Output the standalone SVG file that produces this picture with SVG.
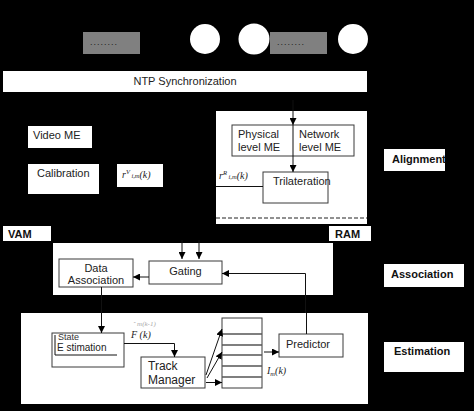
<svg xmlns="http://www.w3.org/2000/svg" width="474" height="411" viewBox="0 0 474 411">
<defs>
<style>
.t{font-family:"Liberation Sans",Arial,sans-serif;font-size:11px;fill:#222}
.b{font-family:"Liberation Sans",Arial,sans-serif;font-size:11px;font-weight:bold;fill:#111}
.m{font-family:"Liberation Serif","Times New Roman",serif;font-style:italic;font-size:10px;fill:#222}
.d{font-family:"Liberation Sans",Arial,sans-serif;font-size:9px;letter-spacing:1px;fill:#222}
.bg{fill:#fff;stroke:none}
.bx{fill:#fff;stroke:#3a3a3a;stroke-width:1}
.ln{fill:none;stroke:#111;stroke-width:1}
.gr{fill:#808080;stroke:none}
</style>
<marker id="ah" viewBox="0 0 8 8" refX="8" refY="4" markerWidth="7" markerHeight="7" orient="auto" markerUnits="userSpaceOnUse">
<path d="M0,0 L8,4 L0,8 Z" fill="#000"/>
</marker>
</defs>
<rect x="0" y="0" width="474" height="411" fill="#000"/>

<g id="sensors">
<rect class="gr" x="83" y="32" width="57" height="22"/>
<text class="d" x="90" y="45">........</text>
<circle cx="205" cy="39" r="15" fill="#fff"/>
<circle cx="254" cy="39" r="15.5" fill="#fff"/>
<rect class="gr" x="270" y="32" width="57" height="22"/>
<text class="d" x="277" y="45">........</text>
<circle cx="353" cy="39" r="15" fill="#fff"/>
</g>

<g id="ntp">
<rect class="bg" x="3" y="71" width="364" height="21"/>
<text class="t" x="185" y="85" text-anchor="middle">NTP Synchronization</text>
</g>

<g id="videoME">
<rect class="bg" x="28" y="126" width="64" height="22"/>
<text class="t" x="33" y="139">Video ME</text>
</g>
<g id="calibration">
<rect class="bg" x="28" y="164" width="71" height="30"/>
<text class="t" x="37" y="177">Calibration</text>
</g>
<g id="rV">
<rect class="bg" x="117" y="164" width="46" height="23"/>
<text class="m" x="122" y="178">r<tspan dy="-4" font-size="6.5">V</tspan><tspan dy="4" font-size="6.5"> i,m</tspan><tspan font-size="10">(k)</tspan></text>
</g>

<g id="alignmentArea">
<rect class="bg" x="216" y="111" width="151" height="113"/>
<line x1="216" y1="218" x2="367" y2="218" stroke="#222" stroke-width="1" stroke-dasharray="4,2"/>
</g>
<g id="physicalNetwork">
<rect class="bx" x="232" y="125" width="122" height="31"/>
<text class="t" x="238" y="138">Physical</text>
<text class="t" x="238" y="151">level ME</text>
<text class="t" x="299" y="138">Network</text>
<text class="t" x="299" y="151">level ME</text>
</g>
<g id="trilateration">
<rect class="bx" x="263" y="172" width="65" height="31"/>
<text class="t" x="273" y="185">Trilateration</text>
</g>
<g id="rR">
<text class="m" x="219" y="179">r<tspan dy="-4" font-size="6.5">R</tspan><tspan dy="4" font-size="6.5"> i,m</tspan><tspan font-size="10">(k)</tspan></text>
</g>

<g id="alignmentLabel">
<rect class="bg" x="384" y="149" width="61" height="22"/>
<text class="b" x="392" y="163">Alignment</text>
</g>
<g id="vam">
<rect class="bg" x="3" y="226" width="48" height="15"/>
<text class="b" x="8" y="238">VAM</text>
</g>
<g id="ram">
<rect class="bg" x="329" y="226" width="42" height="15"/>
<text class="b" x="335" y="238">RAM</text>
</g>

<g id="associationArea">
<rect class="bg" x="53" y="243" width="280" height="52"/>
</g>
<g id="gating">
<rect class="bx" x="149" y="261" width="73" height="23"/>
<text class="t" x="185.5" y="275" text-anchor="middle">Gating</text>
</g>
<g id="dataAssociation">
<rect class="bx" x="59" y="259" width="74" height="28"/>
<text class="t" x="96" y="272" text-anchor="middle">Data</text>
<text class="t" x="96" y="284" text-anchor="middle">Association</text>
</g>
<g id="associationLabel">
<rect class="bg" x="384" y="264" width="80" height="23"/>
<text class="b" x="391" y="278">Association</text>
</g>

<g id="estimationArea">
<rect class="bg" x="21" y="313" width="347" height="91"/>
</g>
<g id="stateEstimation">
<rect class="bx" x="52" y="333" width="72" height="34"/>
<path class="ln" d="M55,335 V355 H117" stroke="#333"/>
<text x="58" y="340" style="font-family:'Liberation Sans',sans-serif;font-size:9px;fill:#333">State</text>
<text x="57" y="351" style="font-family:'Liberation Sans',sans-serif;font-size:10px;fill:#222">E stimation</text>
</g>
<g id="fLabel">
<text x="133" y="326" style="font-family:'Liberation Serif',serif;font-style:italic;font-size:7px;fill:#aaa">ˆ m(k-1)</text>
<text class="m" x="131" y="338">F (k)</text>
</g>
<g id="trackManager">
<rect class="bx" x="141" y="357" width="64" height="31"/>
<text class="t" x="148" y="370" style="font-size:12px">Track</text>
<text class="t" x="148" y="384" style="font-size:12px">Manager</text>
</g>
<g id="trackStack">
<rect class="bx" x="222" y="318" width="40" height="70"/>
<path d="M222,334 H262 M222,345 H262 M222,355 H262 M222,366 H262 M222,377 H262" stroke="#555" stroke-width="1.3"/>
</g>
<g id="predictor">
<rect class="bx" x="279" y="334" width="64" height="23"/>
<text class="t" x="286" y="348">Predictor</text>
</g>
<g id="iLabel">
<text class="m" x="267" y="374">I<tspan dy="2" font-size="6.5">m</tspan><tspan dy="-2">(k)</tspan></text>
</g>
<g id="estimationLabel">
<rect class="bg" x="384" y="342" width="80" height="30"/>
<text class="b" x="394" y="355">Estimation</text>
</g>

<g id="connectors">
<line class="ln" x1="293" y1="100" x2="293" y2="125" marker-end="url(#ah)"/>
<line class="ln" x1="293" y1="125" x2="293" y2="172" marker-end="url(#ah)"/>
<line class="ln" x1="216" y1="186.5" x2="263" y2="186.5"/>
<line class="ln" x1="182" y1="240" x2="182" y2="259" marker-end="url(#ah)"/>
<line class="ln" x1="199" y1="240" x2="199" y2="259" marker-end="url(#ah)"/>
<line class="ln" x1="149" y1="277" x2="133" y2="277" marker-end="url(#ah)"/>
<path class="ln" d="M305.5,313 V273.5 H222" marker-end="url(#ah)"/>
<path class="ln" d="M101.5,287 V333" marker-end="url(#ah)"/>
<path class="ln" d="M124,343.5 H174.5 V357" marker-end="url(#ah)"/>
<line class="ln" x1="206" y1="375" x2="222" y2="329" marker-end="url(#ah)"/>
<line class="ln" x1="207" y1="378" x2="222" y2="352" marker-end="url(#ah)"/>
<line class="ln" x1="206" y1="382.5" x2="222" y2="382.5" marker-end="url(#ah)"/>
<line class="ln" x1="264" y1="352" x2="279" y2="352" marker-end="url(#ah)"/>
<line class="ln" x1="306.5" y1="313" x2="306.5" y2="334"/>
</g>
</svg>
